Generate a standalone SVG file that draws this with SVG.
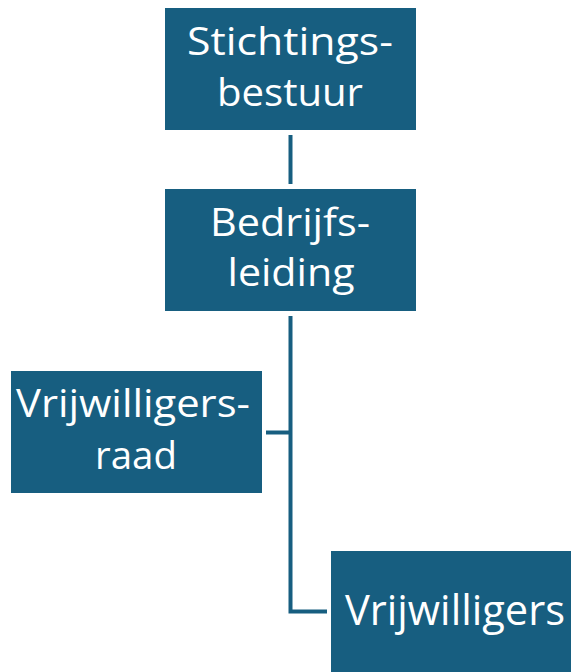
<svg xmlns="http://www.w3.org/2000/svg" width="571" height="672" viewBox="0 0 571 672">
<style>
.box{fill:#175e80}
.t{fill:#ffffff;font-family:"Open Sans","Noto Sans",sans-serif;font-size:38px;text-anchor:middle}
.big{font-size:41.5px}
.c{stroke:#175e80;stroke-width:4;fill:none}
</style>
<rect width="571" height="672" fill="#ffffff"/>
<g id="connectors">
<line class="c" x1="290.5" y1="135" x2="290.5" y2="184"/>
<polyline class="c" points="290.5,316 290.5,611.5 327,611.5"/>
<line class="c" x1="266" y1="432.5" x2="290.5" y2="432.5"/>
</g>
<g id="stichtingsbestuur">
<rect class="box" x="165" y="8" width="251" height="122"/>
<text class="t" x="290" y="55" textLength="206" lengthAdjust="spacingAndGlyphs">Stichtings-</text>
<text class="t" x="290" y="106" textLength="146" lengthAdjust="spacingAndGlyphs">bestuur</text>
</g>
<g id="bedrijfsleiding">
<rect class="box" x="165" y="189" width="251" height="122"/>
<text class="t" x="290" y="236" textLength="160" lengthAdjust="spacingAndGlyphs">Bedrijfs-</text>
<text class="t" x="291" y="286" textLength="127" lengthAdjust="spacingAndGlyphs">leiding</text>
</g>
<g id="vrijwilligersraad">
<rect class="box" x="11" y="371" width="251" height="122"/>
<text class="t" x="133" y="417" textLength="234" lengthAdjust="spacingAndGlyphs">Vrijwilligers-</text>
<text class="t" x="136" y="469" textLength="82" lengthAdjust="spacingAndGlyphs">raad</text>
</g>
<g id="vrijwilligers">
<rect class="box" x="331" y="551" width="240" height="121"/>
<text class="t big" x="455" y="625" textLength="220" lengthAdjust="spacingAndGlyphs">Vrijwilligers</text>
</g>
</svg>
